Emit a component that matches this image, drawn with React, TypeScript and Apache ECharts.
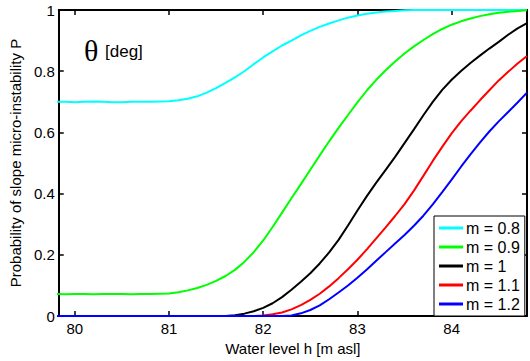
import React, { useEffect, useRef } from "react";
import * as echarts from "echarts";

const waterLevels = [
  79.8, 79.9, 80.0, 80.1, 80.2, 80.3, 80.4, 80.5, 80.6, 80.7,
  80.8, 80.9, 81.0, 81.1, 81.2, 81.3, 81.4, 81.5, 81.6, 81.7,
  81.8, 81.9, 82.0, 82.1, 82.2, 82.3, 82.4, 82.5, 82.6, 82.7,
  82.8, 82.9, 83.0, 83.1, 83.2, 83.3, 83.4, 83.5, 83.6, 83.7,
  83.8, 83.9, 84.0, 84.1, 84.2, 84.3, 84.4, 84.5, 84.6, 84.7, 84.8,
];

const pM08 = [
  0.700, 0.700, 0.699, 0.700, 0.701, 0.700, 0.699, 0.699, 0.700, 0.700,
  0.700, 0.701, 0.702, 0.705, 0.710, 0.718, 0.730, 0.745, 0.762, 0.780,
  0.800, 0.823, 0.845, 0.865, 0.884, 0.900, 0.917, 0.932, 0.945, 0.956,
  0.966, 0.975, 0.982, 0.988, 0.992, 0.995, 0.997, 0.999, 1, 1,
  1, 1, 1, 1, 1, 1, 1, 1, 1, 1, 1,
];

const pM09 = [
  0.072, 0.071, 0.072, 0.072, 0.071, 0.072, 0.072, 0.072, 0.071, 0.072,
  0.072, 0.073, 0.074, 0.078, 0.084, 0.092, 0.102, 0.115, 0.131, 0.151,
  0.177, 0.209, 0.247, 0.291, 0.338, 0.385, 0.431, 0.478, 0.525, 0.571,
  0.615, 0.657, 0.698, 0.737, 0.772, 0.803, 0.832, 0.858, 0.881, 0.902,
  0.921, 0.938, 0.952, 0.963, 0.972, 0.980, 0.986, 0.991, 0.994, 0.997, 0.999,
];

const pM10 = [
  0, 0, 0, 0, 0, 0, 0, 0, 0, 0,
  0, 0, 0, 0, 0, 0, 0, 0, 0, 0.003,
  0.008, 0.016, 0.027, 0.042, 0.062, 0.086, 0.112, 0.140, 0.172, 0.208,
  0.249, 0.296, 0.345, 0.392, 0.436, 0.478, 0.520, 0.565, 0.610, 0.656,
  0.700, 0.739, 0.772, 0.801, 0.827, 0.851, 0.874, 0.896, 0.919, 0.940, 0.957,
];

const pM11 = [
  0, 0, 0, 0, 0, 0, 0, 0, 0, 0,
  0, 0, 0, 0, 0, 0, 0, 0, 0, 0,
  0, 0, 0.002, 0.006, 0.012, 0.022, 0.036, 0.053, 0.073, 0.097,
  0.124, 0.153, 0.184, 0.218, 0.254, 0.290, 0.327, 0.366, 0.410, 0.458,
  0.507, 0.553, 0.597, 0.636, 0.671, 0.705, 0.738, 0.770, 0.798, 0.825, 0.850,
];

const pM12 = [
  0, 0, 0, 0, 0, 0, 0, 0, 0, 0,
  0, 0, 0, 0, 0, 0, 0, 0, 0, 0,
  0, 0, 0, 0, 0, 0.002, 0.009, 0.020, 0.035, 0.055,
  0.077, 0.100, 0.125, 0.152, 0.181, 0.209, 0.237, 0.265, 0.295, 0.328,
  0.365, 0.405, 0.446, 0.488, 0.528, 0.567, 0.603, 0.636, 0.667, 0.698, 0.730,
];

const seriesNames = ["m = 0.8", "m = 0.9", "m = 1", "m = 1.1", "m = 1.2"];
const seriesValues = [pM08, pM09, pM10, pM11, pM12];
const seriesColors = ["#00FFFF", "#00FF00", "#000000", "#FF0000", "#0000FF"];

const xMin = 79.83;
const xMax = 84.8;
const FONT = "'Liberation Sans', Arial, sans-serif";

export default function App() {
  const ref = useRef<HTMLDivElement>(null);
  useEffect(() => {
    if (!ref.current) return;
    const chart = echarts.init(ref.current, undefined, { renderer: "svg" });
    const intLabel = (v: number) =>
      Math.abs(v - Math.round(v)) < 1e-6 ? String(Math.round(v)) : "";
    const axisLine = { show: true, onZero: false, lineStyle: { color: "#000", width: 2 } };
    const axisTick = { show: true, inside: true, length: 5, lineStyle: { color: "#000", width: 1.5 } };
    chart.setOption({
      animation: false,
      backgroundColor: "#fff",
      textStyle: { fontFamily: FONT },
      grid: { left: 55, top: 10, width: 477, height: 310.5, containLabel: false },
      xAxis: [
        {
          type: "value",
          min: xMin,
          max: xMax,
          minInterval: 1,
          maxInterval: 1,
          position: "bottom",
          axisLine,
          axisTick,
          splitLine: { show: false },
          axisLabel: { formatter: intLabel, color: "#000", fontSize: 15, margin: 5, fontFamily: FONT },
          name: "Water level h [m asl]",
          nameLocation: "middle",
          nameGap: 21,
          nameTextStyle: { color: "#000", fontSize: 15, fontFamily: FONT },
        },
        {
          type: "value",
          min: xMin,
          max: xMax,
          minInterval: 1,
          maxInterval: 1,
          position: "top",
          axisLine,
          axisTick,
          splitLine: { show: false },
          axisLabel: { show: false },
        },
      ],
      yAxis: [
        {
          type: "value",
          min: 0,
          max: 1,
          interval: 0.2,
          position: "left",
          axisLine,
          axisTick,
          splitLine: { show: false },
          axisLabel: { color: "#000", fontSize: 15, margin: 4, fontFamily: FONT },
          name: "Probability of slope micro-instability P",
          nameLocation: "middle",
          nameGap: 28,
          nameTextStyle: { color: "#000", fontSize: 15, fontFamily: FONT },
        },
        {
          type: "value",
          min: 0,
          max: 1,
          interval: 0.2,
          position: "right",
          axisLine,
          axisTick,
          splitLine: { show: false },
          axisLabel: { show: false },
        },
      ],
      legend: {
        left: 434,
        top: 216,
        orient: "vertical",
        data: seriesNames,
        icon: "rect",
        itemWidth: 24,
        itemHeight: 3,
        itemGap: 3,
        padding: [4, 5, 4, 5],
        backgroundColor: "#fff",
        borderColor: "#000",
        borderWidth: 1,
        borderRadius: 0,
        textStyle: { color: "#000", fontSize: 16, fontFamily: FONT, padding: [0, 0, 0, -2] },
      },
      graphic: [
        {
          type: "text",
          left: 84,
          top: 35,
          style: { text: "θ", font: "30px 'Liberation Serif', 'Times New Roman', serif", fill: "#000" },
        },
        {
          type: "text",
          left: 105,
          top: 43,
          style: { text: "[deg]", font: "17px 'Liberation Sans', Arial, sans-serif", fill: "#000" },
        },
      ],
      series: seriesNames.map((name, i) => ({
        name,
        type: "line",
        xAxisIndex: 0,
        yAxisIndex: 0,
        data: waterLevels.map((h, j) => [h, seriesValues[i][j]]),
        symbol: "none",
        showSymbol: false,
        clip: true,
        lineStyle: { color: seriesColors[i], width: 2 },
        itemStyle: { color: seriesColors[i] },
      })),
    });
    return () => chart.dispose();
  }, []);
  return (
    <div
      ref={ref}
      style={{ position: "fixed", left: 0, top: 0, width: 530, height: 361, background: "#fff" }}
    />
  );
}
